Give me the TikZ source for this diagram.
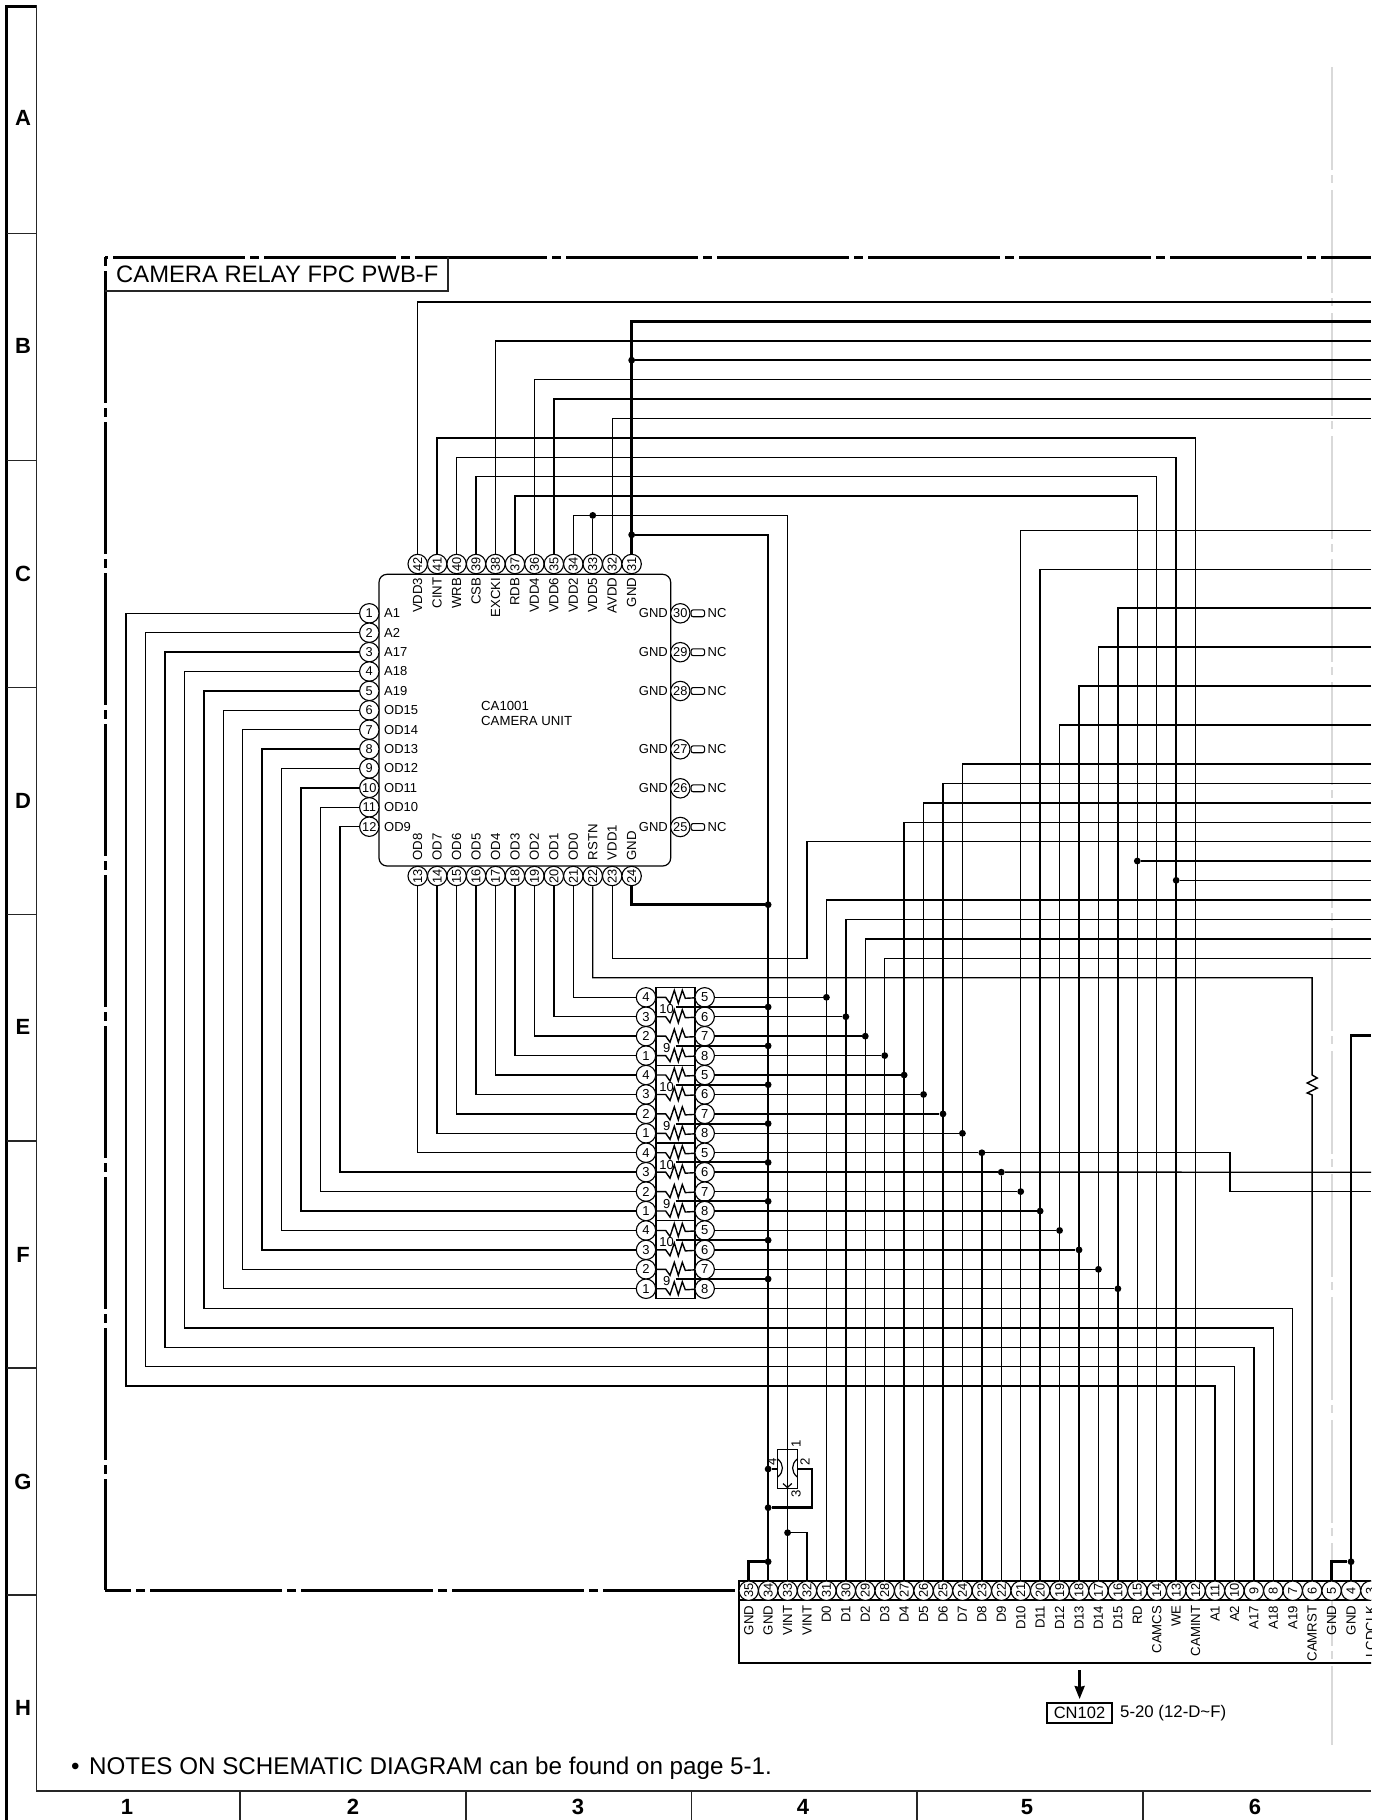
\documentclass[tikz,border=0pt]{standalone}
\usepackage{fontspec}
\setmainfont{Liberation Sans}
\usetikzlibrary{arrows.meta,calc}
\newcommand{\fs}[1]{\fontsize{#1}{#1}\selectfont}
\tikzset{
  x=1pt,y=-1pt,
  wire/.style={line width=1.4pt,line join=miter,black},
  thickwire/.style={line width=2.5pt,line join=miter,black},
  thin frame/.style={line width=1.3pt,black!85},
  board/.style={line width=3pt,black},
  pinc/.style={circle,draw,fill=white,inner sep=0pt,minimum size=19.4pt,line width=1.1pt,font=\fs{13}},
  pinr/.style={pinc,rotate=90,font=\fs{12.8}},
  dotn/.style={circle,fill=black,inner sep=0pt,minimum size=6.8pt},
  lab/.style={inner sep=0pt,font=\fs{13}},
  labv/.style={inner sep=0pt,font=\fs{13.2},rotate=90},
  rowlab/.style={inner sep=0pt,font=\bfseries\fs{22}},
}
\begin{document}
\begin{tikzpicture}
\useasboundingbox (0,0) rectangle (1379,1820);
\begin{scope}
\clip (0,0) rectangle (1371,1820);
% grey fold line
\draw[line width=2.4pt,black!15,dash pattern=on 103pt off 5pt on 8pt off 7pt] (1332,67) -- (1332,1745);
% page frame
\draw[line width=3.4pt,line cap=butt] (6.5,1820) -- (6.5,6.5) -- (37,6.5);
\draw[thin frame] (36.7,5) -- (36.7,1791) -- (1371,1791);
\foreach \yy in {233.5,460.4,687.3,914.2,1141.1,1368,1595}
  \draw[thin frame] (6.5,\yy) -- (36.7,\yy);
\foreach \xx in {240,466,691.5,917,1143}
  \draw[thin frame] (\xx,1791) -- (\xx,1820);
\foreach \t/\yy in {A/118,B/346,C/574,D/801,E/1027,F/1255,G/1482,H/1708}
  \node[rowlab] (row\t) at (23,\yy) {\t};
\foreach \t/\xx in {1/127,2/353,3/578,4/803,5/1027,6/1255}
  \node[rowlab] (col\t) at (\xx,1807) {\t};
\node[inner sep=0pt,anchor=west,font=\fs{24.2}] (note) at (71,1768) {\makebox[18pt][l]{\textbullet}NOTES ON SCHEMATIC DIAGRAM can be found on page 5-1.};
% board outline
\draw[board,dash pattern=on 132pt off 5pt on 9pt off 5pt,dash phase=143pt] (105,257) -- (1371,257);
\draw[board,dash pattern=on 132pt off 5pt on 9pt off 5pt,dash phase=137pt] (105,257) -- (105,1590);
\draw[board,dash pattern=on 132pt off 5pt on 9pt off 5pt,dash phase=106pt] (105,1590) -- (739,1590);
\draw[thin frame] (105,291) -- (448,291) -- (448,257);
\node[inner sep=0pt,anchor=west,font=\fs{23.8}] (title) at (116,274.5) {CAMERA RELAY FPC PWB-F};
% IC
\node[draw,line width=1.2pt,rounded corners=8pt,minimum width=291.7pt,minimum height=291.7pt,inner sep=0pt] (ic) at (524.85,720.15) {};
\node[lab,anchor=west,align=left,font=\fs{13.2}] (icname) at (481,713.5) {CA1001\\[2.6pt]CAMERA UNIT};
% IC pins, top
\foreach \n/\l [count=\i from 0] in {42/VDD3,41/CINT,40/WRB,39/CSB,38/EXCKI,37/RDB,36/VDD4,35/VDD6,34/VDD2,33/VDD5,32/AVDD,31/GND}{
  \pgfmathsetmacro\px{417.7+\i*19.45}
  \node[pinr] (ic\n) at (\px,564) {\n};
  \node[labv,anchor=east] (icl\n) at (\px,577.5) {\l};
}
% IC pins, bottom
\foreach \n/\l [count=\i from 0] in {13/OD8,14/OD7,15/OD6,16/OD5,17/OD4,18/OD3,19/OD2,20/OD1,21/OD0,22/RSTN,23/VDD1,24/GND}{
  \pgfmathsetmacro\px{417.7+\i*19.45}
  \node[pinr] (ic\n) at (\px,876) {\n};
  \node[labv,anchor=west] (icl\n) at (\px,860.5) {\l};
}
% IC pins, left
\foreach \n/\l [count=\i from 0] in {1/A1,2/A2,3/A17,4/A18,5/A19,6/OD15,7/OD14,8/OD13,9/OD12,10/OD11,11/OD10,12/OD9}{
  \pgfmathsetmacro\py{613.3+\i*19.4}
  \node[pinc,font=\fs{12.8}] (ic\n) at (369.3,\py) {\n};
  \node[lab,anchor=west] (icl\n) at (384,\py) {\l};
}
% IC pins, right
\foreach \n/\py in {30/613.3,29/652.2,28/691,27/749.3,26/788.3,25/827}{
  \node[pinc,font=\fs{12.8}] (ic\n) at (680.3,\py) {\n};
  \node[lab,anchor=east] (icl\n) at (668,\py) {GND};
  \node[draw,line width=1.1pt,rounded corners=2pt,minimum width=13.5pt,minimum height=6.8pt,inner sep=0pt,anchor=west] (st\n) at (690.5,\py) {};
  \node[lab,anchor=west] (nc\n) at (707.5,\py) {NC};
}
% resistor arrays
\foreach \b in {0,1,2,3}{
  \pgfmathsetmacro\py{987.3+38.9+\b*77.83}
  \node[draw,line width=1.2pt,minimum width=39pt,minimum height=77.83pt,inner sep=0pt] (rb\b) at (675.5,\py) {};
}
\foreach \r in {0,...,15}{
  \pgfmathsetmacro\py{997.3+\r*19.43}
  \pgfmathtruncatemacro\ln{4-mod(\r,4)}
  \pgfmathtruncatemacro\rn{5+mod(\r,4)}
  \node[pinc] (rl\r) at (646,\py) {\ln};
  \node[pinc] (rr\r) at (704.7,\py) {\rn};
  \draw[wire] (rl\r) -- (665.7,\py) -- ++(4.3,6) -- ++(4.3,-13) -- ++(4,13) -- ++(4,-13) -- ++(3,8) -- (rr\r);
}
\foreach \b in {0,1,2,3}{
  \pgfmathsetmacro\ya{997.3+9.7+\b*77.72}
  \pgfmathsetmacro\yb{997.3+48.6+\b*77.72}
  \node[inner sep=0pt,font=\fs{13}] (rv\b a) at (666.7,\ya+2.3) {10};
  \node[inner sep=0pt,font=\fs{13}] (rv\b b) at (666.7,\yb+2.3) {9};
}
% connector
\draw[line width=1.4pt] (739,1581) rectangle (1390,1663);
\draw[line width=1.1pt] (739,1600) -- (1390,1600);
\foreach \n/\l [count=\i from 0] in {35/GND,34/GND,33/VINT,32/VINT,31/D0,30/D1,29/D2,28/D3,27/D4,26/D5,25/D6,24/D7,23/D8,22/D9,21/D10,20/D11,19/D12,18/D13,17/D14,16/D15,15/RD,14/CAMCS,13/WE,12/CAMINT,11/A1,10/A2,9/A17,8/A18,7/A19,6/CAMRST,5/GND,4/GND,3/LCDCLK}{
  \pgfmathsetmacro\px{748.7+\i*19.43}
  \node[pinr] (cn\n) at (\px,1590.7) {\n};
  \node[labv,anchor=east] (cl\n) at (\px,1605.5) {\l};
}
% reference below connector
\coordinate (arA) at (1079.6,1670);
\coordinate (arB) at (1079.6,1699);
\draw[line width=2.4pt,-{Stealth[length=13pt,width=10pt,inset=1pt]}] (arA) -- (arB);
\node[draw,line width=1.2pt,minimum width=65pt,minimum height=20pt,inner sep=0pt,font=\fs{16.5}] (cnref) at (1079.5,1713) {CN102};
\node[lab,anchor=west,font=\fs{16.8}] (cnpage) at (1120,1713) {5-20 (12-D\textasciitilde F)};
% upper rails to the right edge
\foreach \p/\yy in {42/302,38/340.8,36/379.6,35/399,32/418.4}{
  \coordinate (er\p) at (1371,\yy);
  \draw[wire] (ic\p) |- (er\p);
}
\coordinate (egA) at (1371,321.4);
\coordinate (egB) at (1371,360.2);
\draw[thickwire] (ic31) |- (egA);
\node[dotn] (dgB) at (ic31 |- 0,360.2) {};
\draw[thickwire] (dgB) -- (egB);
% rails into the connector
\foreach \a/\b/\yy in {41/12/437.8,40/13/457.2,39/14/476.6,37/15/496}
  \draw[wire] (ic\a) |- (cn\b |- 0,\yy) -- (cn\b);
% GND and VINT
\node[dotn] (dgC) at (ic31 |- 0,534.8) {};
\draw[thickwire] (dgC) -| (cn34);
\node[dotn] (dgD) at (cn34 |- 0,904.7) {};
\draw[thickwire] (ic24) |- (dgD);
\draw[wire] (ic34) |- (cn33 |- 0,515.4) -- (cn33);
\node[dotn] (dv) at (ic33 |- 0,515.4) {};
\draw[wire] (ic33) -- (dv);
\node[dotn] (dw) at (cn33 |- 0,1532.7) {};
\draw[wire] (dw) -| (cn32);
% RD, WE taps
\node[dotn] (drd) at (cn15 |- 0,861) {};
\node[dotn] (dwe) at (cn13 |- 0,880.3) {};
\coordinate (erd) at (1371,861);
\coordinate (ewe) at (1371,880.3);
\draw[wire] (drd) -- (erd);
\draw[wire] (dwe) -- (ewe);
% OD lines into resistor arrays
\foreach \p in {13,...,21}{
  \pgfmathtruncatemacro\r{21-\p}
  \draw[wire] (ic\p) |- (rl\r);
}
\foreach \p in {6,...,12}{
  \pgfmathtruncatemacro\r{21-\p}
  \pgfmathsetmacro\xl{126+(\p-1)*19.45}
  \draw[wire] (ic\p) -- (ic\p -| \xl,0) |- (rl\r);
}
% A lines
\foreach \p/\c in {5/7,4/8,3/9,2/10,1/11}{
  \pgfmathsetmacro\xl{126+(\p-1)*19.45}
  \pgfmathsetmacro\yl{1289+(6-\p)*19.43}
  \draw[wire] (ic\p) -- (ic\p -| \xl,0) |- (cn\c |- 0,\yl) -- (cn\c);
}
% outputs of resistor arrays
\foreach \r in {0,...,15}{
  \pgfmathtruncatemacro\c{31-\r}
  \node[dotn] (rd\r) at (cn\c |- rr\r) {};
  \draw[wire] (rr\r) -- (rd\r);
}
\foreach \r/\yy in {0/900,1/919.5,2/939,3/958.4,4/822.3,5/802.8,6/783.3,7/763.8,10/530.4,11/569.3,12/725,13/686,14/647,15/608}{
  \pgfmathtruncatemacro\c{31-\r}
  \coordinate (erl\r) at (1371,\yy);
  \draw[wire] (erl\r) -| (cn\c);
}
\draw[wire] (rd8) -- (cn23);
\draw[wire] (rd9) -- (cn22);
\coordinate (e8) at (1371,1191.6);
\coordinate (e9) at (1371,1172.2);
\draw[wire] (rd8) -- (rd8 -| 1230,0) |- (e8);
\draw[wire] (rd9) -- (e9);
% centre taps of resistor arrays
\foreach \k in {0,...,7}{
  \pgfmathsetmacro\py{1007+\k*38.86}
  \coordinate (tp\k) at (675.7,\py);
  \node[dotn] (td\k) at (cn34 |- tp\k) {};
  \draw[line width=2pt] (tp\k) -- (td\k);
}
% VDD1 and RSTN
\coordinate (e23) at (1371,841.7);
\draw[wire] (ic23) |- (807,958.3) |- (e23);
\draw[wire] (ic22) |- (cn6 |- 0,977.7) -- (cn6 |- 0,1075) -- ++(5,3) -- ++(-10,5) -- ++(10,5) -- ++(-10,5) -- ++(5,2) -- (cn6);
% far right GND
\coordinate (e4) at (1371,1035.7);
\draw[thickwire] (cn4) |- (e4);
\node[dotn] (dg4) at (cn4 |- 0,1561.7) {};
\draw[thickwire] (cn5) |- (dg4);
\node[dotn] (dg34) at (cn34 |- 0,1561.7) {};
\draw[thickwire] (cn35) |- (dg34);
% switch on VINT line
\node[draw,line width=1.2pt,minimum width=19.6pt,minimum height=39.4pt,inner sep=0pt] (sw) at (787.5,1469) {};
\draw[wire] (sw.north) -- (sw.south);
\draw[line width=1.2pt] (777.7,1459) .. controls (784,1464) and (784,1472) .. (777.7,1477);
\draw[line width=1.2pt] (797.3,1459) .. controls (791,1464) and (791,1472) .. (797.3,1477);
\draw[line width=1.2pt] (783,1483.5) -- (787.4,1487.5) -- (791.8,1483.5);
\node[dotn] (ds4) at (cn34 |- sw) {};
\draw[thickwire] (sw.west) -- (ds4);
\node[dotn] (ds2) at (cn34 |- 0,1507.7) {};
\draw[thickwire] (sw.east) -| (812,1507.7) -- (ds2);
\node[labv] (swa) at (796,1444) {1};
\node[labv] (swb) at (805,1462) {2};
\node[labv] (swc) at (796,1494) {3};
\node[labv] (swd) at (771.7,1462) {4};
\end{scope}
\end{tikzpicture}
\end{document}
